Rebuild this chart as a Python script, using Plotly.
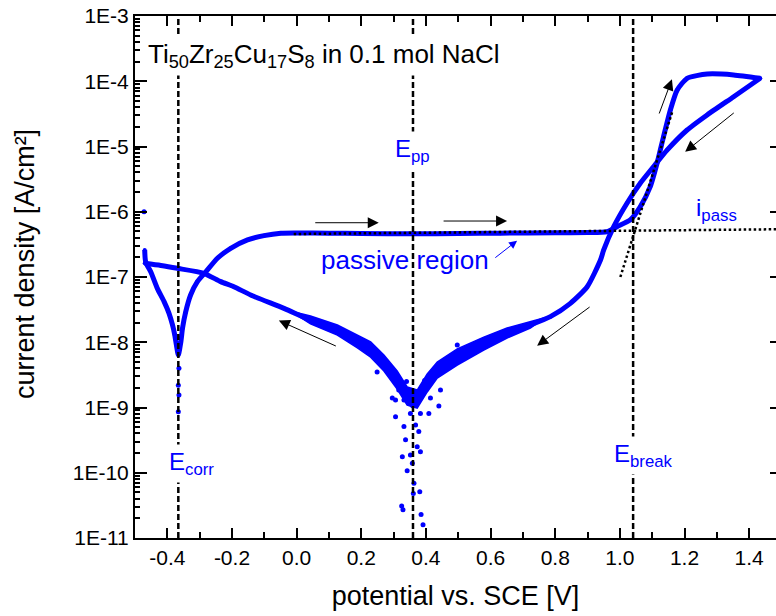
import numpy as np
import plotly.graph_objects as go

# ---- cyclic polarisation curve, Ti50Zr25Cu17S8 in 0.1 mol NaCl ----
# forward scan: cathodic branch -> E_corr -> passive plateau -> breakdown -> apex
fwd_E = [-0.470, -0.467, -0.451, -0.431, -0.410, -0.395, -0.384, -0.377, -0.372, -0.366,
         -0.358, -0.353, -0.343, -0.328, -0.307, -0.281, -0.245, -0.204, -0.152, -0.101,
         -0.049, 0.000, 0.100, 0.200, 0.360, 0.500, 0.630, 0.800, 0.900, 0.960,
         0.991, 1.032, 1.063, 1.094, 1.115, 1.135, 1.156, 1.177, 1.208, 1.270,
         1.352, 1.434]
fwd_i = [2.6e-7, 1.7e-7, 1.19e-7, 6.7e-8, 4.2e-8, 2.8e-8, 1.84e-8, 1.29e-8, 9.1e-9, 6.4e-9,
         1.02e-8, 1.64e-8, 2.94e-8, 5.3e-8, 8.5e-8, 1.2e-7, 1.94e-7, 2.75e-7, 3.7e-7, 4.3e-7,
         4.68e-7, 4.72e-7, 4.7e-7, 4.65e-7, 4.6e-7, 4.65e-7, 4.7e-7, 4.75e-7, 4.8e-7, 4.94e-7,
         5.9e-7, 7.5e-7, 1.19e-6, 2.42e-6, 5.5e-6, 1.41e-5, 3.6e-5, 7.3e-5, 1.11e-4, 1.29e-4,
         1.25e-4, 1.11e-4]

# reverse scan: apex -> repassivation (E_pp) -> back to the start potential
rev_E = [1.434, 1.352, 1.270, 1.208, 1.146, 1.104, 1.063, 1.022, 0.981, 0.950,
         0.940, 0.899, 0.847, 0.785, 0.723, 0.651, 0.579, 0.507, 0.445, 0.435,
         0.404, 0.373, 0.359, 0.342, 0.311, 0.270, 0.229, 0.188, 0.126, 0.043,
         -0.039, -0.142, -0.194, -0.235, -0.287, -0.369, -0.420, -0.470]
rev_i = [1.11e-4, 5.8e-5, 3.04e-5, 1.79e-5, 8.8e-6, 4.9e-6, 2.73e-6, 1.35e-6, 5.9e-7, 2.6e-7,
         1.82e-7, 7.1e-8, 3.95e-8, 2.47e-8, 1.84e-8, 1.37e-8, 9.6e-9, 6.8e-9, 4.75e-9, 3.76e-9,
         2.35e-9, 1.30e-9, 1.05e-9, 1.47e-9, 2.64e-9, 4.75e-9, 7.6e-9, 1.02e-8, 1.54e-8, 2.19e-8,
         3.3e-8, 5.3e-8, 7.1e-8, 8.5e-8, 1.14e-7, 1.36e-7, 1.5e-7, 1.62e-7]

# spread of the noisy reverse branch (upper / lower edge of the point cloud)
band_left_E = [-0.020, 0.043, 0.126, 0.188, 0.229, 0.270, 0.311, 0.342]
band_left_hi = [3.02e-8, 2.52e-8, 1.84e-8, 1.29e-8, 1.01e-8, 6.4e-9, 3.62e-9, 2.06e-9]
band_left_lo = [3.02e-8, 1.91e-8, 1.29e-8, 8.2e-9, 5.9e-9, 3.62e-9, 1.92e-9, 1.09e-9]
band_right_E = [0.373, 0.404, 0.435, 0.497, 0.579, 0.651, 0.723, 0.770]
band_right_hi = [1.85e-9, 3.26e-9, 4.98e-9, 7.9e-9, 1.20e-8, 1.65e-8, 2.04e-8, 2.4e-8]
band_right_lo = [9.8e-10, 1.73e-9, 2.83e-9, 4.48e-9, 7.6e-9, 1.16e-8, 1.65e-8, 2.4e-8]

# isolated readings around the current minimum at E_pp
cloud_E = [0.306, 0.332, 0.337, 0.368, 0.378, 0.373, 0.383, 0.327, 0.352, 0.358,
           0.342, 0.363, 0.381, 0.361, 0.325, 0.329, 0.385, 0.391, 0.409, 0.440,
           0.306, 0.396, 0.249, 0.296, 0.316, 0.332, 0.340, 0.445, 0.414, 0.497,
           0.466, 0.383, 0.352, 0.363]
cloud_i = [7.2e-10, 5.1e-10, 3.2e-10, 5.4e-10, 4.3e-10, 2.5e-10, 2.1e-10, 1.76e-10, 1.87e-10, 1.40e-10,
           1.07e-10, 6.9e-11, 5.1e-11, 4.8e-11, 3.1e-11, 2.7e-11, 2.3e-11, 1.6e-11, 8.1e-10, 1.05e-9,
           1.3e-9, 2.6e-9, 3.5e-9, 1.4e-9, 1.85e-9, 1.3e-9, 2.5e-9, 1.85e-9, 1.4e-9, 9.1e-9,
           5.7e-9, 8.1e-10, 8.1e-10, 1.3e-9]

# readings below the current minimum at E_corr, and the first recorded point
corr_E = [-0.364, -0.366, -0.364, -0.366]
corr_i = [4.0e-9, 2.2e-9, 1.56e-9, 8.6e-10]
start_E = [-0.472]
start_i = [1.0e-6]

# passive current density and breakdown tangent (construction lines)
ipass_E = [-0.009, 1.50]
ipass_i = [4.56e-7, 5.40e-7]
tangent_E = [1.0015, 1.162]
tangent_i = [1.0e-7, 3.4e-5]

# characteristic potentials [V vs. SCE]
E_corr = -0.366
E_pp = 0.360
E_break = 1.041

# axis ticks
x_ticks = [-0.4, -0.2, 0.0, 0.2, 0.4, 0.6, 0.8, 1.0, 1.2, 1.4]
x_labels = ["-0.4", "-0.2", "0.0", "0.2", "0.4", "0.6", "0.8", "1.0", "1.2", "1.4"]
y_ticks = [1e-11, 1e-10, 1e-9, 1e-8, 1e-7, 1e-6, 1e-5, 1e-4, 1e-3]
y_labels = ["1E-11", "1E-10", "1E-9", "1E-8", "1E-7", "1E-6", "1E-5", "1E-4", "1E-3"]

# scan-direction arrows: (tail E, tail i, head E, head i)
scan_arrows = [
    (0.053, 6.79e-7, 0.254, 6.79e-7),
    (0.450, 7.21e-7, 0.651, 7.21e-7),
    (0.126, 8.55e-9, -0.055, 2.15e-8),
    (0.911, 3.60e-8, 0.744, 8.85e-9),
    (1.120, 3.04e-5, 1.161, 1.07e-4),
    (1.357, 3.41e-5, 1.202, 8.30e-6),
]

BLUE = "#0000ff"
FONT = "Liberation Sans, Arial, sans-serif"

fig = go.Figure()

band_x = band_left_E + band_right_E + band_right_E[::-1] + band_left_E[::-1]
band_y = band_left_hi + band_right_hi + band_right_lo[::-1] + band_left_lo[::-1]
fig.add_trace(go.Scatter(x=band_x, y=band_y, mode="lines", fill="toself",
                         fillcolor=BLUE, line=dict(color=BLUE, width=1.5),
                         hoverinfo="skip"))
fig.add_trace(go.Scatter(x=fwd_E, y=fwd_i, mode="lines+markers",
                         line=dict(color=BLUE, width=5, shape="spline", smoothing=0.6),
                         marker=dict(color=BLUE, size=4)))
fig.add_trace(go.Scatter(x=rev_E, y=rev_i, mode="lines+markers",
                         line=dict(color=BLUE, width=5, shape="spline", smoothing=0.6),
                         marker=dict(color=BLUE, size=4)))
fig.add_trace(go.Scatter(x=cloud_E + corr_E + start_E, y=cloud_i + corr_i + start_i,
                         mode="markers", marker=dict(color=BLUE, size=5)))
fig.add_trace(go.Scatter(x=ipass_E, y=ipass_i, mode="lines", yaxis="y2",
                         line=dict(color="black", width=2.5, dash="2.5px,2.5px")))
fig.add_trace(go.Scatter(x=tangent_E, y=tangent_i, mode="lines", yaxis="y2",
                         line=dict(color="black", width=2.5, dash="2.5px,2.5px")))

# vertical dashed markers of the characteristic potentials
for e in (E_corr, E_pp, E_break):
    fig.add_shape(type="line", xref="x", yref="paper", x0=e, x1=e, y0=0, y1=1,
                  line=dict(color="black", width=2.5, dash="6px,3px"), layer="above")

annotations = []
for te, ti, he, hi in scan_arrows:
    annotations.append(dict(x=he, y=np.log10(hi), ax=te, ay=np.log10(ti),
                            xref="x", yref="y", axref="x", ayref="y", text="",
                            showarrow=True, arrowhead=2, arrowsize=2.2,
                            arrowwidth=1, arrowcolor="black"))
annotations.append(dict(x=0.682, y=np.log10(3.6e-7), ax=0.610, ay=np.log10(1.9e-7),
                        xref="x", yref="y", axref="x", ayref="y", text="",
                        showarrow=True, arrowhead=2, arrowsize=1.6,
                        arrowwidth=1, arrowcolor=BLUE))

def label(text, x, y, size=24, color=BLUE, bg=None, xanchor="center"):
    return dict(text=text, x=x, y=np.log10(y), xref="x", yref="y", showarrow=False,
                xanchor=xanchor, yanchor="middle", font=dict(family=FONT, size=size, color=color),
                bgcolor=bg, borderpad=3)

annotations += [
    label("Ti<sub>50</sub>Zr<sub>25</sub>Cu<sub>17</sub>S<sub>8</sub> in 0.1 mol NaCl",
          -0.472, 2.52e-4, size=26, color="black", bg="white", xanchor="left"),
    label("E<sub>pp</sub>", E_pp, 8.8e-6, bg="white"),
    label("E<sub>corr</sub>", -0.326, 1.41e-10, bg="white"),
    label("E<sub>break</sub>", 1.074, 1.87e-10, bg="white"),
    label("i<sub>pass</sub>", 1.298, 1.10e-6),
    label("passive region", 0.334, 1.82e-7, size=26),
    # y-axis title, placed by hand so it sits slightly above the plot centre
    dict(text="current density [A/cm²]", xref="paper", yref="paper",
         x=-0.1716, y=0.525, xanchor="center", yanchor="middle", textangle=-90,
         showarrow=False, font=dict(family=FONT, size=27, color="black")),
]

minor_y = [m * 10.0 ** e for e in range(-11, -3) for m in range(2, 10)]

fig.update_layout(
    width=776, height=616,
    margin=dict(l=135, r=0, t=16, b=78),
    paper_bgcolor="white", plot_bgcolor="white",
    showlegend=False,
    font=dict(family=FONT, size=21, color="black"),
    annotations=annotations,
    xaxis=dict(range=[-0.5, 1.483], tickvals=x_ticks, ticktext=x_labels,
               ticks="inside", ticklen=10, tickwidth=1.5, tickcolor="black",
               showline=True, linewidth=2, linecolor="black", mirror="ticks",
               minor=dict(ticks="inside", ticklen=6, tickwidth=1.5, tickcolor="black",
                          dtick=0.1, tick0=0.0),
               showgrid=False, zeroline=False, automargin=False,
               tickfont=dict(size=21),
               title=dict(text="potential vs. SCE [V]", font=dict(size=27), standoff=18)),
    yaxis=dict(type="log", range=[-11, -3], tickvals=y_ticks, ticktext=y_labels,
               ticks="inside", ticklen=12, tickwidth=1.5, tickcolor="black",
               showline=True, linewidth=2, linecolor="black", mirror=False,
               minor=dict(ticks="inside", ticklen=5, tickwidth=1.5, tickcolor="black",
                          tickvals=minor_y),
               showgrid=False, zeroline=False, automargin=False,
               tickfont=dict(size=21)),
    yaxis2=dict(type="log", range=[-11, -3], overlaying="y", side="right",
                tickvals=y_ticks, ticks="inside", ticklen=6, tickwidth=1.5,
                tickcolor="black", showticklabels=False, showline=False,
                showgrid=False, zeroline=False),
)

fig.write_html("out.html")
